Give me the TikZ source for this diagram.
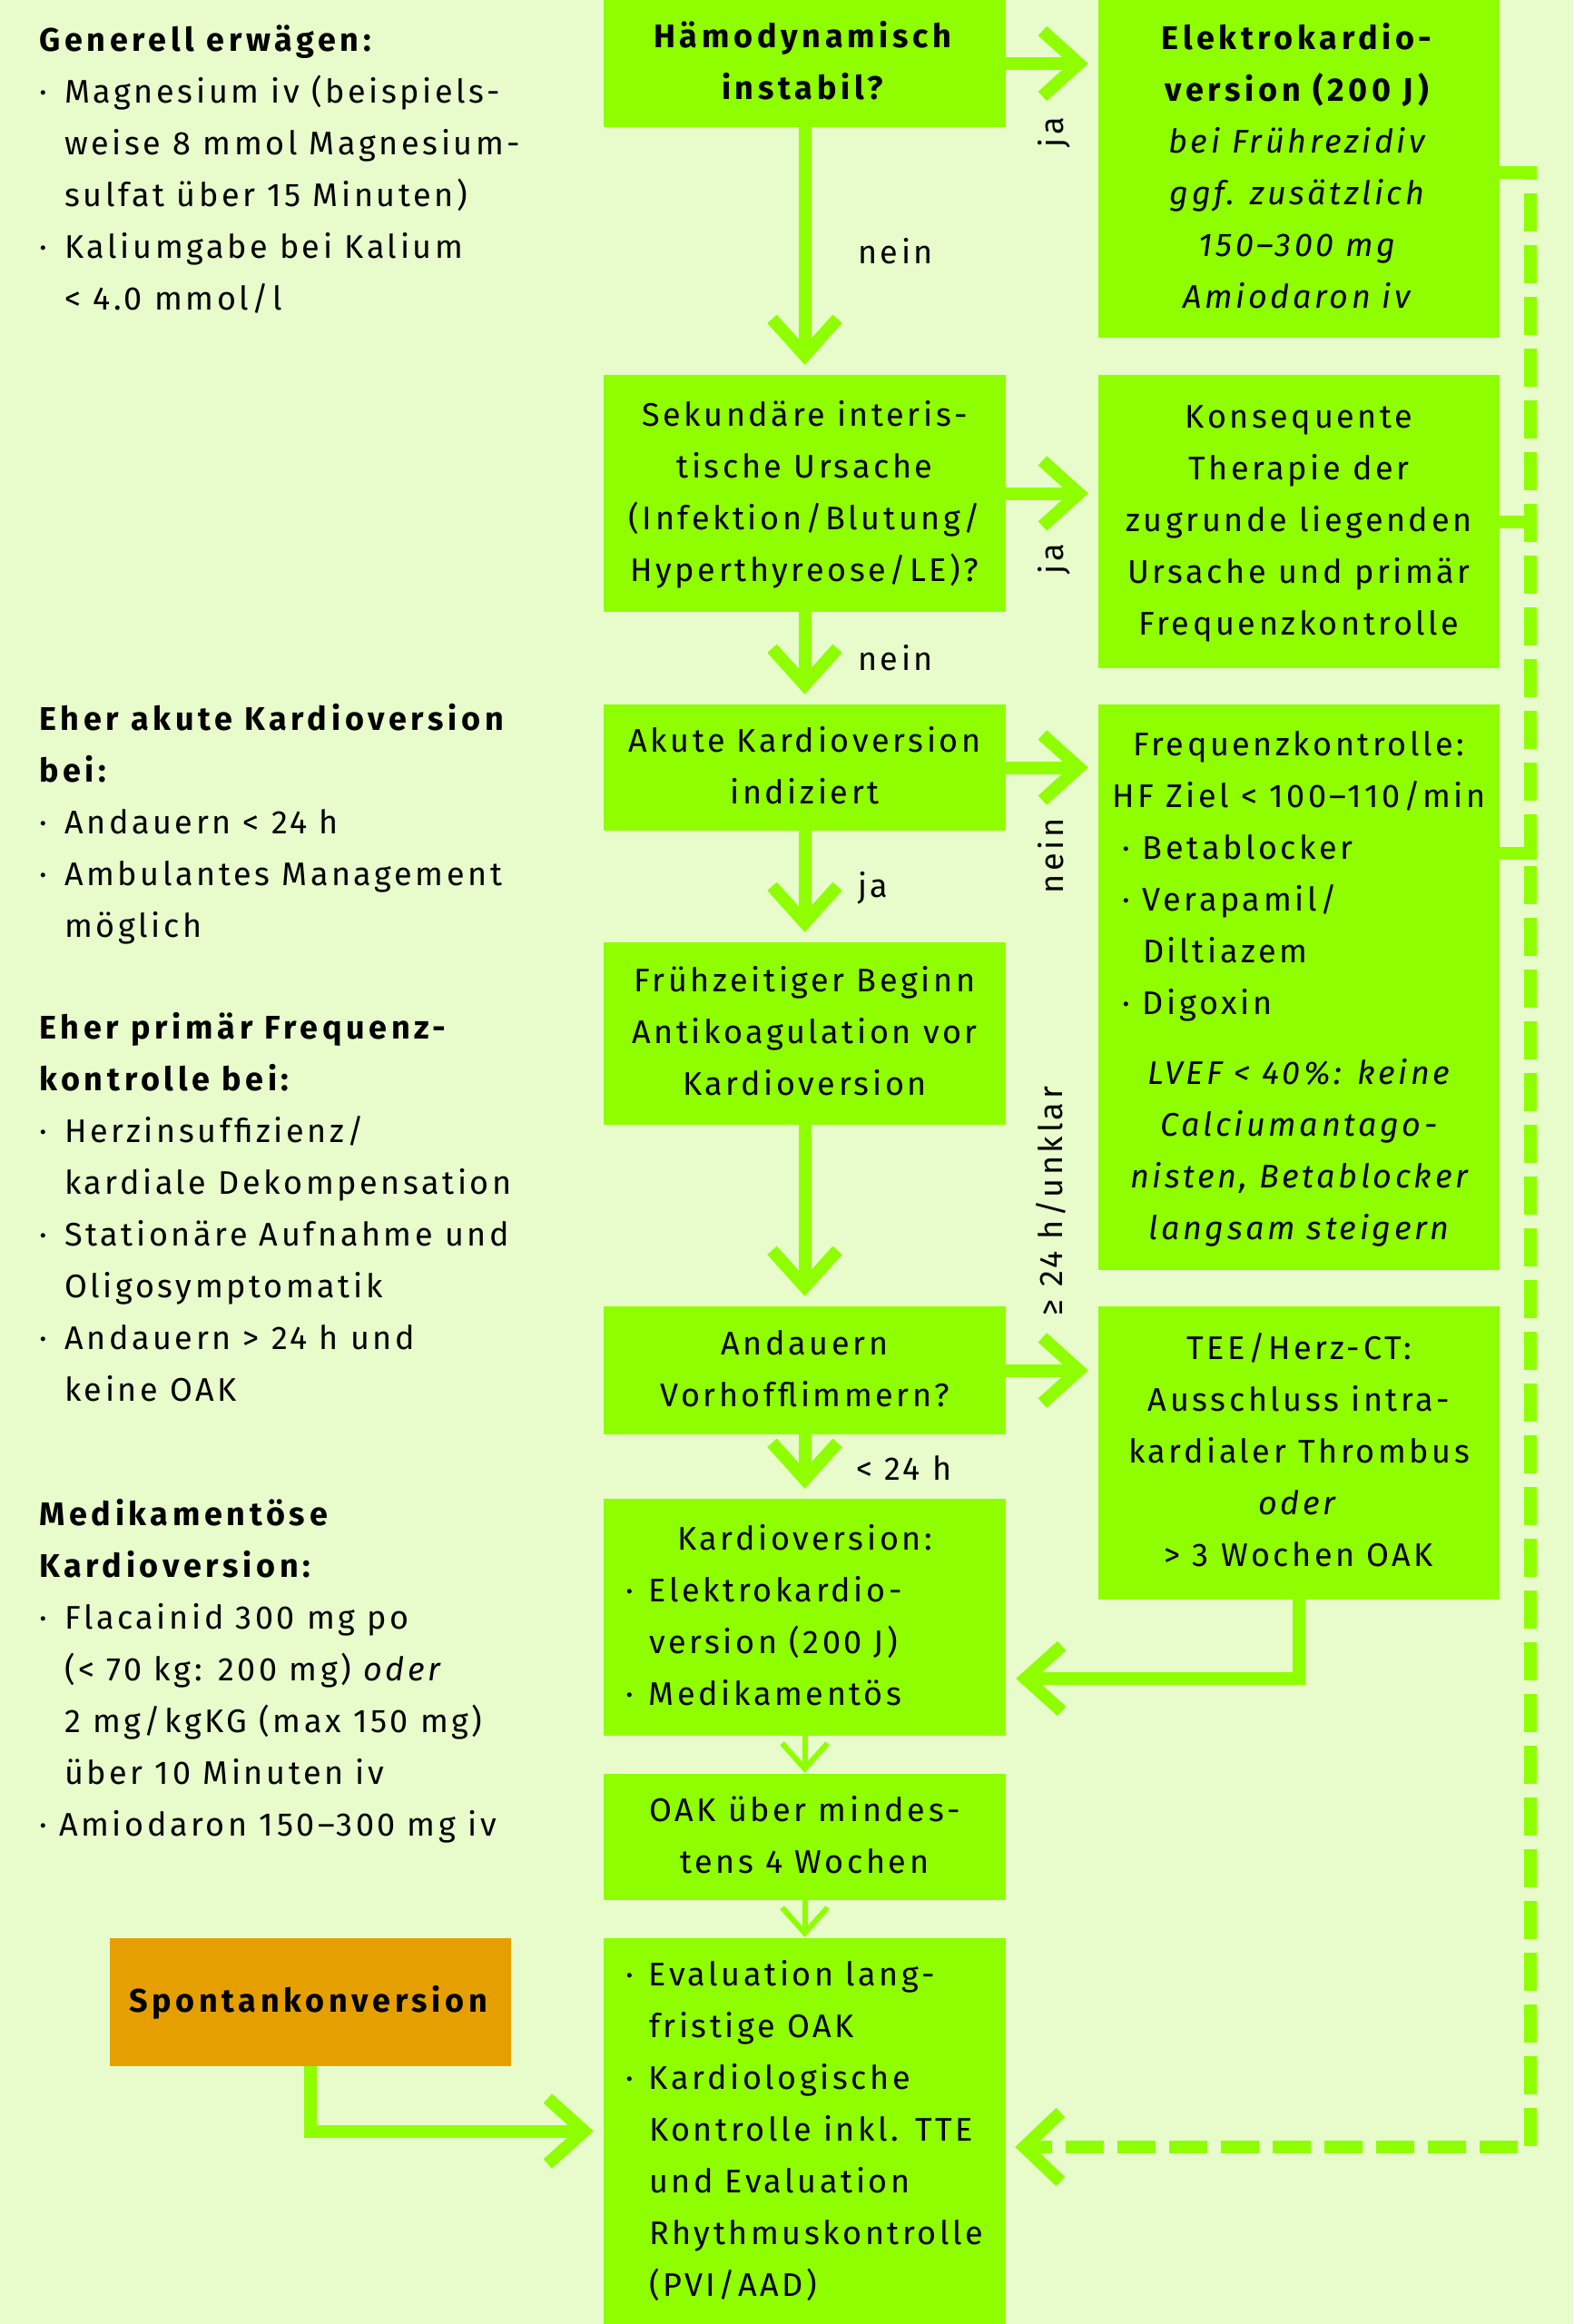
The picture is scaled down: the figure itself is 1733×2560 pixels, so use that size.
\documentclass[tikz,border=0pt]{standalone}
\usepackage{fontspec}
\setmainfont{Fira Sans}[LetterSpace=10, BoldFeatures={LetterSpace=13}, ItalicFeatures={LetterSpace=10}]
\usetikzlibrary{arrows.meta}
\definecolor{bg}{HTML}{E8FCCB}
\definecolor{grn}{HTML}{8FFF00}
\definecolor{org}{HTML}{E5A000}
\newlength\rw \newlength\bw
\newcommand\cl[1]{\makebox[\rw][c]{#1}}
\newcommand\bl[1]{\makebox[\rw][l]{\makebox[\bw][l]{·}#1}}
\newcommand\il[1]{\makebox[\rw][l]{\hspace*{\bw}#1}}
\newcommand\bu{\makebox[28pt][l]{·}}
\newcommand\ind{\hspace*{28pt}}
\newcommand\fs{\fontsize{36pt}{57pt}\selectfont}
\begin{document}
\begin{tikzpicture}[x=1pt,y=-1pt,font=\fs,
  box/.style={fill=grn, inner sep=0pt, minimum width=443pt, align=center},
  rbox/.style={box, minimum width=442pt},
  rowwidth/.code={\global\rw=#1\relax},
  bulw/.code={\global\bw=#1\relax},
  txt/.style={inner sep=0pt, align=left, anchor=north west},
  lab/.style={inner sep=0pt},
  arr/.style={draw=grn, line width=14pt, -{Straight Barb[sharp, length=40pt, width=72pt]}, shorten >=11pt},
  sarr/.style={draw=grn, line width=6pt, -{Straight Barb[sharp, length=28pt, width=50pt]}, shorten >=1pt},
  darr/.style={draw=grn, line width=14pt, dash pattern=on 42pt off 15pt, -{Straight Barb[sharp, length=40pt, width=76pt]}, shorten >=10pt},
  tick/.style={draw=grn, line width=14pt}]
\fill[bg] (0,0) rectangle (1733,2560);
\useasboundingbox (0,0) rectangle (1733,2560);

% left column
\node[txt] (g1) at (43,16.1) {\strut\textbf{Generell erwägen:}\\
\bu Magnesium iv (beispiels-\\
\ind weise 8 mmol Magnesium-\\
\ind sulfat über 15 Minuten)\\
\bu Kaliumgabe bei Kalium\\
\ind < 4.0 mmol/l\strut};
\node[txt] (g2) at (43,764.1) {\strut\textbf{Eher akute Kardioversion}\\
\textbf{bei:}\\
\bu Andauern < 24 h\\
\bu Ambulantes Management\\
\ind möglich\strut};
\node[txt] (g3) at (43,1104.1) {\strut\textbf{Eher primär Frequenz-}\\
\textbf{kontrolle bei:}\\
\bu Herzinsuffizienz/\\
\ind kardiale Dekompensation\\
\bu Stationäre Aufnahme und\\
\ind Oligosymptomatik\\
\bu Andauern > 24 h und\\
\ind keine OAK\strut};
\node[txt] (g4) at (43,1640.1) {\strut\textbf{Medikamentöse}\\
\textbf{Kardioversion:}\\
\bu Flacainid 300 mg po\\
\ind (< 70 kg: 200 mg) \textit{oder}\\
\ind 2 mg/kgKG (max 150 mg)\\
\ind über 10 Minuten iv\\
\makebox[22pt][l]{·}Amiodaron 150–300 mg iv\strut};

% centre column
\node[box, minimum height=140pt] (b1) at (886.5,70) {\strut\textbf{Hämodynamisch}\\\textbf{instabil?}\strut};
\node[box, minimum height=261pt] (b2) at (886.5,543.5) {\strut Sekundäre interis-\\tische Ursache\\(Infektion/Blutung/\\Hyperthyreose/LE)?\strut};
\node[box, minimum height=139pt] (b3) at (886.5,845.5) {\strut Akute Kardioversion\\indiziert\strut};
\node[box, minimum height=201pt] (b4) at (886.5,1138.5) {\strut Frühzeitiger Beginn\\Antikoagulation vor\\Kardioversion\strut};
\node[box, minimum height=141pt] (b5) at (886.5,1509.5) {\strut Andauern\\Vorhofflimmern?\strut};
\node[box, minimum height=261pt, rowwidth=395pt, bulw=26pt] (b6) at (886.5,1781.5) {\strut\cl{Kardioversion:}\\\bl{Elektrokardio-}\\\il{version (200 J)}\\\bl{Medikamentös}\strut};
\node[box, minimum height=139pt] (b7) at (886.5,2023.5) {\strut OAK über mindes-\\tens 4 Wochen\strut};
\node[box, minimum height=425pt, rowwidth=395pt, bulw=26pt] (b8) at (886.5,2347.5) {\strut\bl{Evaluation lang-}\\\il{fristige OAK}\\\bl{Kardiologische}\\\il{Kontrolle inkl. TTE}\\\il{und Evaluation}\\\il{Rhythmuskontrolle}\\\il{(PVI/AAD)}\strut};

% right column
\node[rbox, minimum height=372pt] (r1) at (1431,186) {\strut\textbf{Elektrokardio-}\\\textbf{version (200 J)}\\\textit{bei Frührezidiv}\\\textit{ggf. zusätzlich}\\\textit{150–300 mg}\\\textit{Amiodaron iv}\strut};
\node[rbox, minimum height=323pt] (r2) at (1431,574.5) {\strut Konsequente\\Therapie der\\zugrunde liegenden\\Ursache und primär\\Frequenzkontrolle\strut};
\node[rbox, minimum height=623pt, rowwidth=390pt, bulw=23pt] (r3) at (1431,1087.5) {\strut\cl{Frequenzkontrolle:}\\\cl{HF Ziel < 100–110/min}\\\bl{Betablocker}\\\bl{Verapamil/}\\\il{Diltiazem}\\\bl{Digoxin}\\[20pt]\cl{\itshape LVEF < 40\%: keine}\\\cl{\itshape Calciumantago-}\\\cl{\itshape nisten, Betablocker}\\\cl{\itshape langsam steigern}\strut};
\node[rbox, minimum height=323pt] (r5) at (1431,1600.5) {\strut TEE/Herz-CT:\\Ausschluss intra-\\kardialer Thrombus\\\textit{oder}\\> 3 Wochen OAK\strut};

% spontaneous conversion
\node[box, fill=org, minimum width=442pt, minimum height=141pt] (sp) at (342,2205.5) {\strut\textbf{Spontankonversion}\strut};

% labels
\node[lab, anchor=base west] (ln1) at (945,290) {nein};
\node[lab, anchor=base west] (ln2) at (945,738) {nein};
\node[lab, anchor=base west] (lj3) at (945,988) {ja};
\node[lab, anchor=base west] (ll24) at (943,1630) {< 24 h};
\node[lab, rotate=90, anchor=base] (lj1) at (1171,146) {ja};
\node[lab, rotate=90, anchor=base] (lj2) at (1171,616) {ja};
\node[lab, rotate=90, anchor=base] (ln3) at (1171,943) {nein};
\node[lab, rotate=90, anchor=base] (lg24) at (1170,1323) {≥ 24 h/unklar};

% connectors
\draw[arr] (b1) -- (b2);
\draw[arr] (b2) -- (b3);
\draw[arr] (b3) -- (b4);
\draw[arr] (b4) -- (b5);
\draw[arr] (b5) -- (b6);
\draw[sarr] (b6) -- (b7);
\draw[sarr] (b7) -- (b8);
\draw[arr] (b1.east) -- (b1.east -| r1.west);
\draw[arr] (b2.east) -- (b2.east -| r2.west);
\draw[arr] (b3.east) -- (b3.east -| r3.west);
\draw[arr] (b5.east) -- (b5.east -| r5.west);
\path (b6.east) ++(0,67.5) coordinate (c1);
\draw[arr] (r5.south) |- (c1);
\draw[arr] (sp.south) |- (b8.west);
\path (b8.east) ++(0,17.5) coordinate (c3);
\path (r1.east) ++(0,4) coordinate (c0);
\draw[darr] (c0) -- ++(34,0) |- (c3);
\draw[tick] (r2.east) -- ++(41,0);
\path (r3.north east) ++(0,164) coordinate (c4);
\draw[tick] (c4) -- ++(41,0);
\end{tikzpicture}
\end{document}
